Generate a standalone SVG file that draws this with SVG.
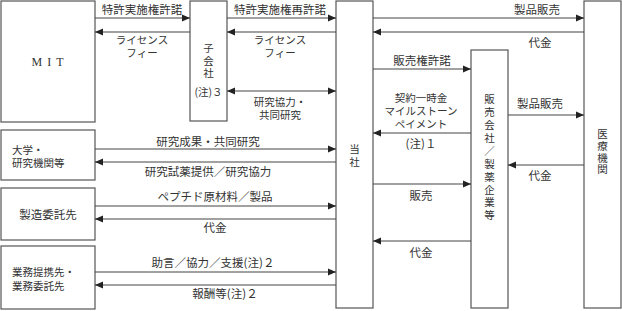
<svg xmlns="http://www.w3.org/2000/svg" width="622" height="311" viewBox="0 0 622 311">
<style>
.box{fill:#fff;stroke:#555;stroke-width:1.2}
.t{font-family:"Noto Sans CJK JP","Liberation Serif",sans-serif;font-size:11.5px;fill:#333}
.s{font-size:10.5px}
.m{text-anchor:middle}
.v{font-family:"Noto Sans CJK JP",sans-serif;font-size:10.5px;fill:#333;writing-mode:vertical-rl}
.c line{stroke:#444;stroke-width:1.2}
.mit{font-family:"Liberation Serif",serif;font-size:12px;fill:#333;text-anchor:middle;letter-spacing:5px}
</style>
<defs>
<marker id="ah" markerUnits="userSpaceOnUse" markerWidth="8" markerHeight="8" viewBox="0 0 8 8" refX="8" refY="4" orient="auto-start-reverse"><path d="M0,0.5 L8,4 L0,7.5 Z" fill="#222"/></marker>
</defs>
<rect width="622" height="311" fill="#fff"/>
<g id="mit"><rect class="box" x="1" y="1" width="94" height="121"/><text class="mit" x="50" y="66">MIT</text></g>
<g id="subsidiary"><rect class="box" x="190" y="1" width="37" height="120"/>
<text class="v" x="208.5" y="43" letter-spacing="2">子会社</text>
<text class="t s m" x="208.5" y="96">(注)３</text></g>
<g id="company"><rect class="box" x="336" y="1" width="37" height="307"/>
<text class="v" x="354.5" y="144" letter-spacing="2.5">当社</text></g>
<g id="sales"><rect class="box" x="471" y="50" width="37" height="258"/>
<text class="v" x="489.5" y="94" letter-spacing="2.4">販売会社／製薬企業等</text></g>
<g id="hospital"><rect class="box" x="584" y="1" width="37" height="307"/>
<text class="v" x="602.5" y="129" letter-spacing="1.2">医療機関</text></g>
<g id="univ"><rect class="box" x="1" y="130" width="94" height="50"/>
<text class="t s"><tspan x="12" y="154">大学・</tspan><tspan x="12" y="167">研究機関等</tspan></text></g>
<g id="mfg"><rect class="box" x="1" y="188" width="94" height="52"/>
<text class="t m" x="48" y="219">製造委託先</text></g>
<g id="partner"><rect class="box" x="1" y="246" width="94" height="63"/>
<text class="t s"><tspan x="12" y="276">業務提携先・</tspan><tspan x="12" y="290">業務委託先</tspan></text></g>
<g class="c" id="connectors">
<line x1="95" y1="18" x2="190" y2="18" marker-end="url(#ah)"/>
<line x1="190" y1="32" x2="95" y2="32" marker-end="url(#ah)"/>
<line x1="227" y1="18" x2="336" y2="18" marker-end="url(#ah)"/>
<line x1="336" y1="32" x2="227" y2="32" marker-end="url(#ah)"/>
<line x1="227" y1="91" x2="336" y2="91" marker-start="url(#ah)" marker-end="url(#ah)"/>
<line x1="373" y1="18" x2="584" y2="18" marker-end="url(#ah)"/>
<line x1="584" y1="32" x2="373" y2="32" marker-end="url(#ah)"/>
<line x1="373" y1="69" x2="471" y2="69" marker-end="url(#ah)"/>
<line x1="471" y1="133" x2="373" y2="133" marker-end="url(#ah)"/>
<line x1="508" y1="115" x2="584" y2="115" marker-end="url(#ah)"/>
<line x1="584" y1="165" x2="508" y2="165" marker-end="url(#ah)"/>
<line x1="373" y1="184" x2="471" y2="184" marker-end="url(#ah)"/>
<line x1="471" y1="241" x2="373" y2="241" marker-end="url(#ah)"/>
<line x1="95" y1="149" x2="336" y2="149" marker-end="url(#ah)"/>
<line x1="336" y1="162" x2="95" y2="162" marker-end="url(#ah)"/>
<line x1="95" y1="206" x2="336" y2="206" marker-end="url(#ah)"/>
<line x1="336" y1="219" x2="95" y2="219" marker-end="url(#ah)"/>
<line x1="95" y1="272" x2="336" y2="272" marker-end="url(#ah)"/>
<line x1="336" y1="285" x2="95" y2="285" marker-end="url(#ah)"/>
</g>
<g id="labels">
<text class="t m" x="142" y="14">特許実施権許諾</text>
<text class="t s m"><tspan x="142" y="44">ライセンス</tspan><tspan x="142" y="57">フィー</tspan></text>
<text class="t m" x="280" y="14">特許実施権再許諾</text>
<text class="t s m"><tspan x="280" y="44">ライセンス</tspan><tspan x="280" y="57">フィー</tspan></text>
<text class="t s m"><tspan x="280" y="106">研究協力・</tspan><tspan x="280" y="119">共同研究</tspan></text>
<text class="t m" x="537" y="14">製品販売</text>
<text class="t m" x="540" y="47">代金</text>
<text class="t m" x="422" y="65">販売権許諾</text>
<text class="t s m"><tspan x="421" y="102">契約一時金</tspan><tspan x="421" y="115">マイルストーン</tspan><tspan x="421" y="128">ペイメント</tspan></text>
<text class="t m" x="421" y="148">(注)１</text>
<text class="t m" x="540" y="108">製品販売</text>
<text class="t m" x="540" y="180">代金</text>
<text class="t m" x="421" y="200">販売</text>
<text class="t m" x="421" y="257">代金</text>
<text class="t m" x="208" y="146">研究成果・共同研究</text>
<text class="t m" x="208" y="176">研究試薬提供／研究協力</text>
<text class="t m" x="215" y="201">ペプチド原材料／製品</text>
<text class="t m" x="215" y="232">代金</text>
<text class="t m" x="213" y="267">助言／協力／支援(注)２</text>
<text class="t m" x="225" y="298">報酬等(注)２</text>
</g>
</svg>
